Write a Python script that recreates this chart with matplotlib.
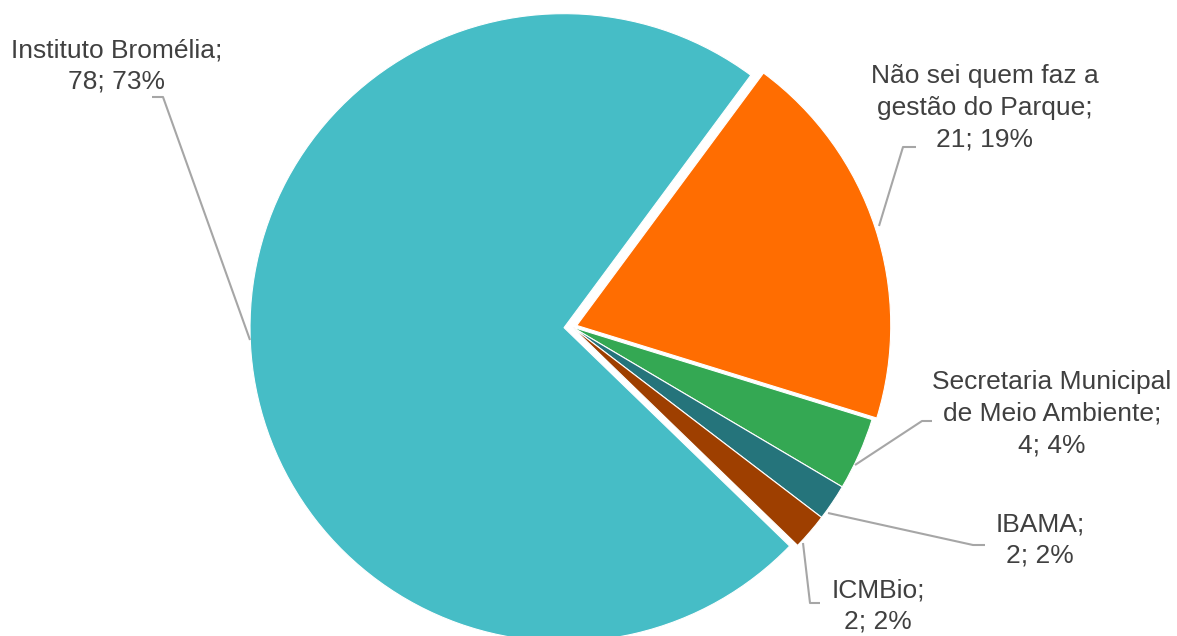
import numpy as np
import matplotlib.pyplot as plt

plt.rcParams['font.family'] = ['Liberation Sans', 'DejaVu Sans']

# fatias na ordem em que aparecem (horario, a partir do topo direito)
labels = ['Não sei quem faz a\ngestão do Parque', 'Secretaria Municipal\nde Meio Ambiente',
          'IBAMA', 'ICMBio', 'Instituto Bromélia']
values = [21, 4, 2, 2, 78]
percents = [19, 4, 2, 2, 73]
colors = ['#FF6D01', '#34A853', '#25747B', '#9E3F00', '#46BDC6']
explode = [5, 0, 0, 0, 8]  # em pixels

W, H = 1177, 636
fig = plt.figure(figsize=(W / 100, H / 100), dpi=100)
ax = fig.add_axes([0, 0, 1, 1])

cx, cy, r = 572, H - 327, 314
ax.pie(values, colors=colors, explode=explode, startangle=53.5, counterclock=False,
       center=(cx, cy), radius=r,
       wedgeprops=dict(edgecolor='white', linewidth=0.8))
ax.set_xlim(0, W)
ax.set_ylim(0, H)
ax.set_aspect('equal')
ax.axis('off')

# posicoes dos rotulos e das linhas de chamada (em pixels, y a partir do topo)
text_pos = [(985, 108), (1052, 414), (1040, 540), (878, 606), (117, 66)]
leaders = [
    [(916, 147), (903, 147), (879, 226)],
    [(932, 421), (922, 421), (855, 465)],
    [(985, 545), (973, 545), (828, 513)],
    [(820, 603), (810, 603), (803, 543)],
    [(152, 97), (163, 97), (250, 340)],
]

for lab, v, p, (tx, ty), pts in zip(labels, values, percents, text_pos, leaders):
    ax.text(tx, H - ty, f'{lab};\n{v}; {p}%', ha='center', va='center',
            multialignment='center', fontsize=19, color='#404040', linespacing=1.42)
    xs = [q[0] for q in pts]
    ys = [H - q[1] for q in pts]
    ax.plot(xs, ys, color='#A6A6A6', lw=1.5, solid_capstyle='butt')

fig.savefig('out.png', dpi=100)
